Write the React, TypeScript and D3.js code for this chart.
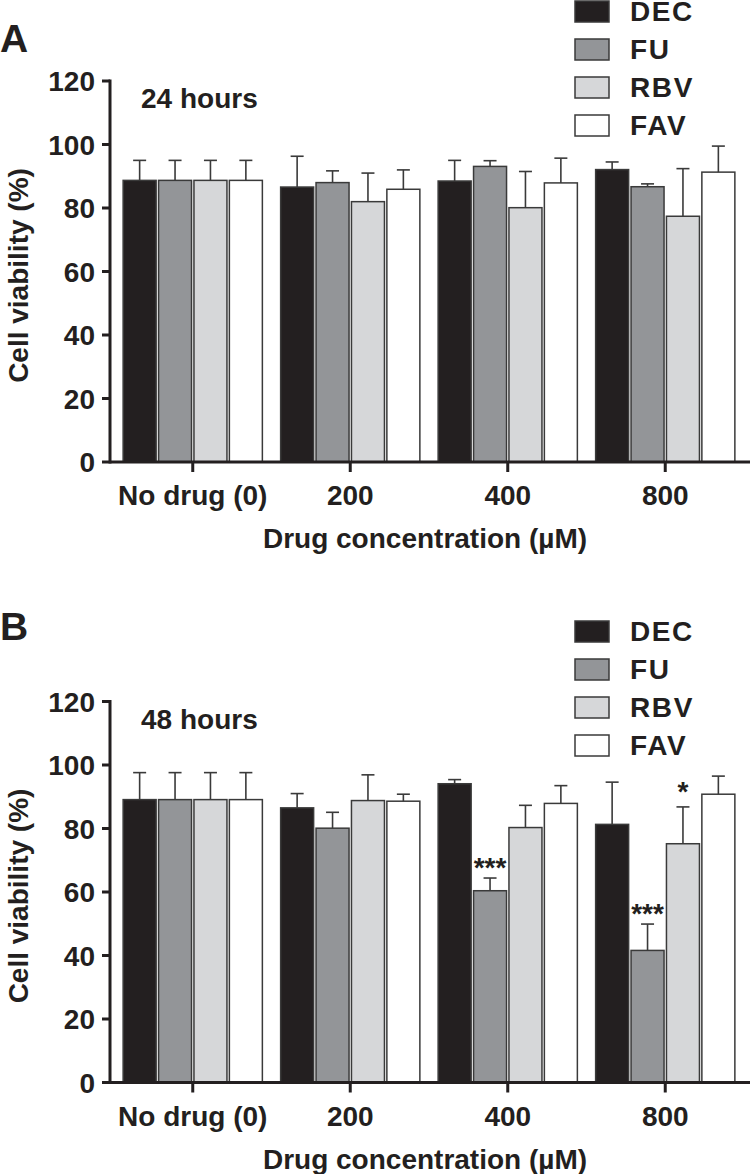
import React from "react";
import * as d3 from "d3";

const categories = ["No drug (0)", "200", "400", "800"];
const series = ["DEC", "FU", "RBV", "FAV"];
const seriesColors = ["#231f20", "#939598", "#d6d7d9", "#ffffff"];
const yTicks = [0, 20, 40, 60, 80, 100, 120];

// Panel A — 24 hours (mean, upper error)
const a24_DEC = [88.7, 86.6, 88.5, 92.1];
const a24_FU = [88.7, 88.0, 93.1, 86.7];
const a24_RBV = [88.7, 82.0, 80.1, 77.4];
const a24_FAV = [88.7, 85.9, 87.9, 91.3];
const a24err_DEC = [6.3, 9.7, 6.5, 2.4];
const a24err_FU = [6.3, 3.7, 1.8, 0.9];
const a24err_RBV = [6.3, 9.0, 11.4, 15.0];
const a24err_FAV = [6.3, 6.1, 7.8, 8.2];

// Panel B — 48 hours
const b48_DEC = [89.1, 86.5, 94.1, 81.3];
const b48_FU = [89.1, 80.1, 60.4, 41.6];
const b48_RBV = [89.1, 88.8, 80.3, 75.2];
const b48_FAV = [89.1, 88.6, 87.9, 90.8];
const b48err_DEC = [8.5, 4.5, 1.3, 13.3];
const b48err_FU = [8.5, 5.0, 4.0, 8.3];
const b48err_RBV = [8.5, 8.1, 7.0, 11.6];
const b48err_FAV = [8.5, 2.2, 5.6, 5.7];

// significance marks: [series, category, label]
const b48Marks: [string, string, string][] = [
  ["FU", "400", "***"],
  ["FU", "800", "***"],
  ["RBV", "800", "*"],
];

const FONT = "'Liberation Sans', Arial, Helvetica, sans-serif";
const AXIS = "#231f20";

type PanelProps = {
  letter: string;
  letterY: number;
  title: string;
  top: number; // y pixel of 120
  bottom: number; // y pixel of 0
  legendTop: number;
  means: number[][];
  errs: number[][];
  marks: [string, string, string][];
};

function Panel(p: PanelProps) {
  const axisX = 110;
  const y = d3.scaleLinear().domain([0, 120]).range([p.bottom, p.top]);
  const x0 = d3
    .scaleBand<string>()
    .domain(categories)
    .range([114, 744])
    .paddingInner(0.116)
    .paddingOuter(0.058);
  const x1 = d3
    .scaleBand<string>()
    .domain(series)
    .range([0, x0.bandwidth()])
    .paddingInner(0.068);

  const bars: React.ReactNode[] = [];
  const errs: React.ReactNode[] = [];
  series.forEach((s, si) => {
    categories.forEach((c, ci) => {
      const v = p.means[si][ci];
      const e = p.errs[si][ci];
      const bx = (x0(c) as number) + (x1(s) as number);
      const bw = x1.bandwidth();
      bars.push(
        <rect
          key={`b-${s}-${c}`}
          x={bx}
          y={y(v)}
          width={bw}
          height={y(0) - y(v)}
          fill={seriesColors[si]}
          stroke="#3a3a3a"
          strokeWidth={1.5}
        />
      );
      const cx = bx + bw / 2;
      errs.push(
        <g key={`e-${s}-${c}`} stroke="#3a3a3a" strokeWidth={1.6}>
          <line x1={cx} x2={cx} y1={y(v)} y2={y(v + e)} />
          <line x1={cx - 6.5} x2={cx + 6.5} y1={y(v + e)} y2={y(v + e)} />
        </g>
      );
    });
  });

  const markEls = p.marks.map(([s, c, label]) => {
    const si = series.indexOf(s);
    const ci = categories.indexOf(c);
    const v = p.means[si][ci] + p.errs[si][ci];
    const cx = (x0(c) as number) + (x1(s) as number) + x1.bandwidth() / 2;
    return (
      <text
        key={`m-${s}-${c}`}
        x={cx}
        y={y(v) - (label.length === 1 ? 6 : 1)}
        textAnchor="middle"
        fontFamily={FONT}
        fontWeight="bold"
        fontSize={28}
        fill={AXIS}
      >
        {label}
      </text>
    );
  });

  return (
    <g>
      <text x={0} y={p.letterY} fontFamily={FONT} fontWeight="bold" fontSize={39} fill={AXIS}>
        {p.letter}
      </text>
      {bars}
      {errs}
      {markEls}
      {/* y axis */}
      <line x1={axisX} x2={axisX} y1={y(120) - 1.5} y2={y(0) + 1.5} stroke={AXIS} strokeWidth={3} />
      {yTicks.map((t) => (
        <g key={`yt-${t}`}>
          <line x1={axisX - 8} x2={axisX} y1={y(t)} y2={y(t)} stroke={AXIS} strokeWidth={3} />
          <text
            x={axisX - 15}
            y={y(t)}
            dy="0.36em"
            textAnchor="end"
            fontFamily={FONT}
            fontWeight="bold"
            fontSize={28}
            fill={AXIS}
          >
            {t}
          </text>
        </g>
      ))}
      {/* x axis */}
      <line x1={axisX} x2={750} y1={y(0)} y2={y(0)} stroke={AXIS} strokeWidth={3} />
      {categories.map((c) => {
        const cx = (x0(c) as number) + x0.bandwidth() / 2;
        return (
          <g key={`xt-${c}`}>
            <line x1={cx} x2={cx} y1={y(0)} y2={y(0) + 10} stroke={AXIS} strokeWidth={3} />
            <text
              x={cx}
              y={y(0) + 43}
              textAnchor="middle"
              fontFamily={FONT}
              fontWeight="bold"
              fontSize={28}
              fill={AXIS}
            >
              {c}
            </text>
          </g>
        );
      })}
      <text
        x={425}
        y={y(0) + 86}
        textAnchor="middle"
        fontFamily={FONT}
        fontWeight="bold"
        fontSize={28}
        fill={AXIS}
      >
        Drug concentration (µM)
      </text>
      <text
        transform={`translate(28, ${(y(0) + y(120)) / 2 + 4}) rotate(-90)`}
        textAnchor="middle"
        fontFamily={FONT}
        fontWeight="bold"
        fontSize={28}
        fill={AXIS}
      >
        Cell viability (%)
      </text>
      <text x={141} y={y(120) + 27} fontFamily={FONT} fontWeight="bold" fontSize={28} fill={AXIS}>
        {p.title}
      </text>
      {/* legend */}
      {series.map((s, i) => (
        <g key={`lg-${s}`}>
          <rect
            x={575}
            y={p.legendTop + i * 38}
            width={34}
            height={21}
            fill={seriesColors[i]}
            stroke="#3a3a3a"
            strokeWidth={1.5}
          />
          <text
            x={630}
            y={p.legendTop + i * 38 + 20}
            fontFamily={FONT}
            fontWeight="bold"
            fontSize={28}
            letterSpacing={1.6}
            fill={AXIS}
          >
            {s}
          </text>
        </g>
      ))}
    </g>
  );
}

export default function App() {
  return (
    <svg
      width={750}
      height={1174}
      style={{ position: "absolute", left: 0, top: 0, background: "#fff" }}
    >
      <rect x={0} y={0} width={750} height={1174} fill="#fff" />
      <Panel
        letter="A"
        letterY={52}
        title="24 hours"
        top={81}
        bottom={462}
        legendTop={1}
        means={[a24_DEC, a24_FU, a24_RBV, a24_FAV]}
        errs={[a24err_DEC, a24err_FU, a24err_RBV, a24err_FAV]}
        marks={[]}
      />
      <Panel
        letter="B"
        letterY={640}
        title="48 hours"
        top={701.5}
        bottom={1082.5}
        legendTop={621}
        means={[b48_DEC, b48_FU, b48_RBV, b48_FAV]}
        errs={[b48err_DEC, b48err_FU, b48err_RBV, b48err_FAV]}
        marks={b48Marks}
      />
    </svg>
  );
}
